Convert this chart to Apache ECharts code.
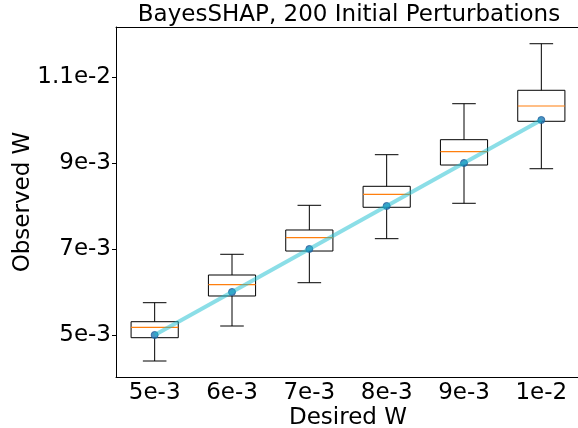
<!DOCTYPE html>
<html>
<head>
<meta charset="utf-8">
<script src="https://cdn.jsdelivr.net/npm/echarts@6/dist/echarts.min.js"></script>
<style>html,body{margin:0;padding:0;background:#fff}#c{width:578px;height:428px}</style>
</head>
<body>
<div id="c"></div>
<script>
// Data
var categories = ['5e-3', '6e-3', '7e-3', '8e-3', '9e-3', '1e-2'];
var desired = [5e-3, 6e-3, 7e-3, 8e-3, 9e-3, 1e-2];
var whiskerLow = [4.395e-3, 5.209e-3, 6.216e-3, 7.240e-3, 8.063e-3, 8.867e-3];
var q1 = [4.937e-3, 5.907e-3, 6.953e-3, 7.970e-3, 8.953e-3, 9.970e-3];
var median = [5.179e-3, 6.170e-3, 7.263e-3, 8.272e-3, 9.263e-3, 1.0326e-2];
var q3 = [5.309e-3, 6.395e-3, 7.442e-3, 8.458e-3, 9.542e-3, 1.0691e-2];
var whiskerHigh = [5.751e-3, 6.877e-3, 8.016e-3, 9.193e-3, 1.0379e-2, 1.1774e-2];
var yTickValues = [5e-3, 7e-3, 9e-3, 1.1e-2];
var yTickLabels = ['5e-3', '7e-3', '9e-3', '1.1e-2'];

var FONT = 'DejaVu Sans';
var FS = 23;
var boxData = categories.map(function (c, i) {
  return [i, whiskerLow[i], q1[i], median[i], q3[i], whiskerHigh[i]];
});
var lineData = categories.map(function (c, i) { return [i, desired[i]]; });

function renderBox(params, api) {
  var i = api.value(0);
  var band = api.size([1, 0])[0];
  var bw = band * 0.61;
  var cw = bw / 2;
  var pLo = api.coord([i, api.value(1)]);
  var pQ1 = api.coord([i, api.value(2)]);
  var pMed = api.coord([i, api.value(3)]);
  var pQ3 = api.coord([i, api.value(4)]);
  var pHi = api.coord([i, api.value(5)]);
  var x = pMed[0];
  var blk = { stroke: '#000', lineWidth: 1, fill: null };
  return {
    type: 'group',
    children: [
      { type: 'line', shape: { x1: x, y1: pQ1[1], x2: x, y2: pLo[1] }, style: blk },
      { type: 'line', shape: { x1: x, y1: pQ3[1], x2: x, y2: pHi[1] }, style: blk },
      { type: 'line', shape: { x1: x - cw / 2, y1: pLo[1], x2: x + cw / 2, y2: pLo[1] }, style: blk },
      { type: 'line', shape: { x1: x - cw / 2, y1: pHi[1], x2: x + cw / 2, y2: pHi[1] }, style: blk },
      { type: 'rect', shape: { x: x - bw / 2, y: pQ3[1], width: bw, height: pQ1[1] - pQ3[1] }, style: { stroke: '#000', lineWidth: 1, fill: 'rgba(0,0,0,0)' } },
      { type: 'line', shape: { x1: x - bw / 2, y1: pMed[1], x2: x + bw / 2, y2: pMed[1] }, style: { stroke: '#ff7f0e', lineWidth: 1.2 } }
    ]
  };
}

var chart = echarts.init(document.getElementById('c'), null, { renderer: 'canvas' });
chart.setOption({
  animation: false,
  backgroundColor: '#fff',
  title: {
    text: 'BayesSHAP, 200 Initial Perturbations',
    left: 344, top: -1, textAlign: 'center',
    textStyle: { fontFamily: FONT, fontSize: FS, fontWeight: 'normal', color: '#000' }
  },
  grid: { left: 116, top: 27, right: -2, bottom: 51, containLabel: false, outerBoundsMode: 'none' },
  xAxis: [{
    type: 'category', data: categories, boundaryGap: true,
    name: 'Desired W', nameLocation: 'middle', nameGap: 30, nameMoveOverlap: false,
    nameTextStyle: { fontFamily: FONT, fontSize: FS, color: '#000' },
    axisLine: { lineStyle: { color: '#000', width: 1 } },
    axisTick: { alignWithLabel: true, length: 4, lineStyle: { color: '#000' } },
    axisLabel: { fontFamily: FONT, fontSize: FS, color: '#000', margin: 5 },
    splitLine: { show: false }
  }, {
    type: 'category', data: categories, position: 'top',
    axisLine: { lineStyle: { color: '#000', width: 1 } },
    axisTick: { show: false }, axisLabel: { show: false }, splitLine: { show: false }
  }],
  yAxis: {
    type: 'value', min: 4.023e-3, max: 1.2163e-2,
    name: 'Observed W', nameLocation: 'middle', nameGap: 81, nameMoveOverlap: false,
    nameTextStyle: { fontFamily: FONT, fontSize: FS, color: '#000' },
    axisLine: { show: true, lineStyle: { color: '#000', width: 1 } },
    axisTick: { show: true, length: 4, customValues: yTickValues, lineStyle: { color: '#000' } },
    axisLabel: {
      fontFamily: FONT, fontSize: FS, color: '#000', margin: 5,
      customValues: yTickValues,
      formatter: function (v) {
        var best = 0;
        for (var k = 0; k < yTickValues.length; k++) {
          if (Math.abs(yTickValues[k] - v) < Math.abs(yTickValues[best] - v)) best = k;
        }
        return yTickLabels[best];
      }
    },
    splitLine: { show: false }
  },
  series: [{
    type: 'custom', renderItem: renderBox, data: boxData, z: 2,
    encode: { x: 0, y: [1, 2, 3, 4, 5] }, clip: true
  }, {
    type: 'scatter', data: lineData, symbol: 'circle', symbolSize: 7, z: 3,
    itemStyle: { color: '#1f77b4', borderColor: '#1f5f9a', borderWidth: 1 }
  }, {
    type: 'line', data: lineData, symbol: 'none', z: 4,
    lineStyle: { color: 'rgba(23,190,207,0.5)', width: 4 }
  }]
});
</script>
</body>
</html>
